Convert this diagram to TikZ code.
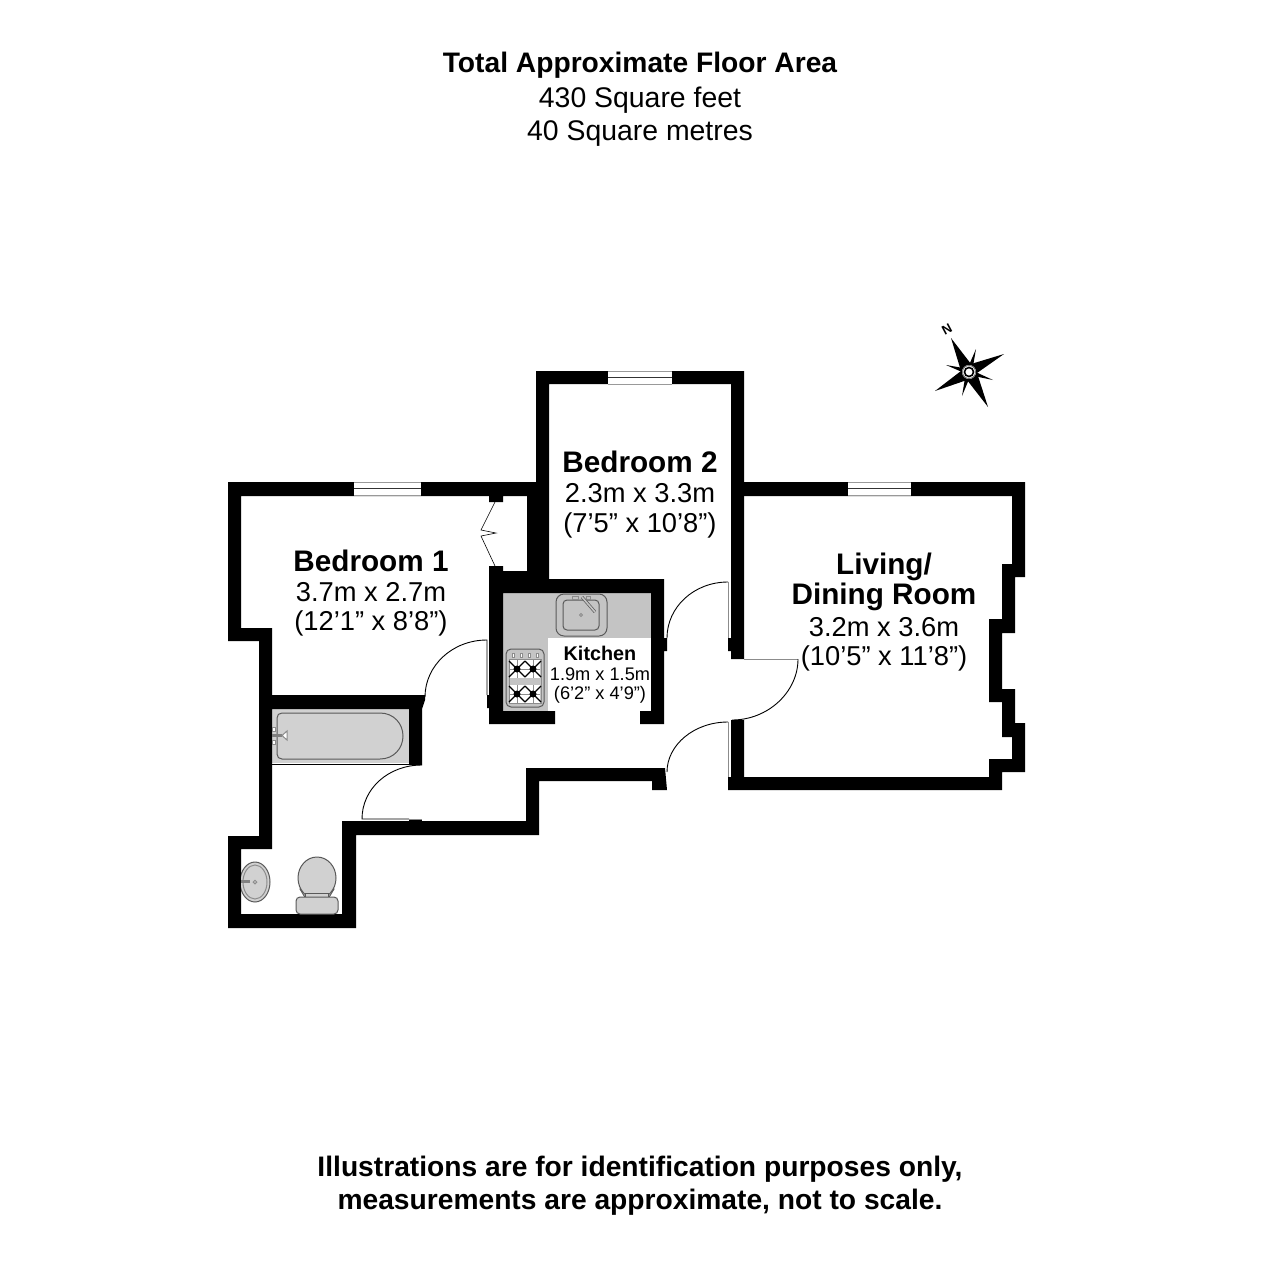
\documentclass[tikz,border=0pt]{standalone}
\usepackage{fontspec}
\setmainfont{Liberation Sans}
\usetikzlibrary{calc}

\tikzset{
	wall/.style = {fill = black},
	glazing/.style = {draw = black!40, line width = 0.5pt},
	leaf/.style = {draw = black, line width = 0.45pt},
	frame/.style = {draw = black!45, line width = 0.5pt},
	fitting/.style = {fill = black!18, draw = black!65, line width = 0.5pt},
	worktop/.style = {fill = black!23},
	roomname/.style = {font = \fontsize{14.85}{16}\selectfont\bfseries, inner sep = 0pt},
	roomsize/.style = {font = \fontsize{13.65}{15}\selectfont, inner sep = 0pt},
	kitname/.style = {font = \fontsize{9.9}{10}\selectfont\bfseries, inner sep = 0pt},
	kitsize/.style = {font = \fontsize{9.1}{9}\selectfont, inner sep = 0pt},
	notice/.style = {font = \fontsize{14.1}{16}\selectfont\bfseries, inner sep = 0pt},
	heading/.style = {font = \fontsize{14.2}{16}\selectfont, inner sep = 0pt}
}

\begin{document}
\begin{tikzpicture}[x = 0.5pt, y = -0.5pt]

\fill[white] (0,0) rectangle (1280,1280);

% worktops under the walls
\fill[worktop] (503,593) rectangle (651,638);
\fill[worktop] (503,638) rectangle (548,711);
\fill[fitting, draw = none] (272,709) rectangle (409,763);
\draw[line width = 0.5pt] (272,764)--(409,764);

% walls
\fill[wall] (228,482)--(536,482)--(536,371)--(744,371)--(744,659)--(731,659)--(731,651)--(728,651)--(728,638)--(731,638)--(731,384)--(549,384)--(549,579)--(664,579)--(664,638)--(667,638)--(667,651)--(664,651)--(664,724)--(640,724)--(640,711)--(651,711)--(651,593)--(503,593)--(503,711)--(555,711)--(555,724)--(489,724)--(489,708)--(487,708)--(487,695)--(489,695)--(489,566)--(503,566)--(503,571)--(527,571)--(527,496)--(503,496)--(503,502)--(489,502)--(489,496)--(241,496)--(241,628)--(272,628)--(272,695)--(425,695)--(425,700)--(422,709)--(422,765)--(409,765)--(409,709)--(272,709)--(272,849)--(241,849)--(241,914)--(342,914)--(342,821)--(526,821)--(526,768)--(665,768)--(667,790)--(652,790)--(652,781)--(539,781)--(539,835)--(356,835)--(356,928)--(228,928)--(228,836)--(259,836)--(259,641)--(228,641)--cycle;
\fill[wall] (731,720)--(744,720)--(744,777)--(989,777)--(989,759)--(1012,759)--(1012,737)--(1002,737)--(1002,702)--(989,702)--(989,619)--(1002,619)--(1002,564)--(1012,564)--(1012,496)--(744,496)--(744,482)--(1025,482)--(1025,577)--(1015,577)--(1015,633)--(1002,633)--(1002,689)--(1015,689)--(1015,723)--(1025,723)--(1025,772)--(1002,772)--(1002,790)--(728,790)--(728,777)--(731,777)--cycle;
\fill[wall] (409,819) rectangle (422,821);

% windows
\foreach \x/\y/\w in {354/482/67, 608/371/64, 848/482/63}{
	\fill[white] (\x,\y) rectangle (\x+\w,\y+14);
	\draw[glazing] (\x,\y+0.5)--(\x+\w,\y+0.5);
	\draw[glazing] (\x,\y+13.5)--(\x+\w,\y+13.5);
	\draw[glazing, black!80] (\x,\y+6.5)--(\x+\w,\y+6.5);
}

% doors
\draw[leaf] (487,695)--(487,640) .. controls (452,640) and (425,666) .. (425,697);
\draw[leaf] (422,765) .. controls (388,765) and (362,789) .. (362,819)--(409,819);
\draw[frame] (409,819)--(422,819);
\draw[leaf] (667,638) .. controls (667,607) and (694,582) .. (728,582);
\draw[frame] (728,582)--(728,638);
\draw[leaf] (667,772) .. controls (667,745) and (694,722) .. (728,722);
\draw[frame] (728,722)--(728,777);
\draw[frame] (744,659)--(798,659);
\draw[leaf] (798,659) .. controls (798,692) and (768,720) .. (732,720);
\draw[leaf, line width = 0.3pt] (495,502)--(481,530)--(496,533)--(481,536)--(495,566);

% bath
\draw[fitting] (282,713)--(380,713) .. controls (394,713) and (403,724) .. (403,736) .. controls (403,748) and (394,759) .. (380,759)--(282,759) .. controls (279,759) and (277,757) .. (277,754)--(277,718) .. controls (277,715) and (279,713) .. (282,713)--cycle;
\draw[frame, fill = white] (272,727) rectangle (275,731);
\draw[frame, fill = white] (272,740) rectangle (275,744);
\fill[black!50] (272,734) rectangle (282,737);
\draw[frame, fill = white] (282,735.5)--(287,731)--(287,740)--cycle;

% basin
\begin{scope}
	\clip (241,855) rectangle (275,910);
	\draw[fitting] (255,882) ellipse [x radius = 15, y radius = 20];
	\draw[frame] (255,882) ellipse [x radius = 12, y radius = 17];
\end{scope}
\fill[black!50] (241,880) rectangle (250,883);
\draw[frame] (255,882) circle (1.8);

% toilet
\draw[fitting] (300,889)--(334,889)--(328,899)--(306,899)--cycle;
\draw[fitting] (317,878) ellipse [x radius = 19, y radius = 21];
\draw[fitting] (305,893) rectangle (328,897);
\draw[fitting, rounded corners = 2pt] (296,897) rectangle (338,914);

% sink
\draw[fitting, fill = black!23, rounded corners = 4pt] (556,594) rectangle (607,636);
\draw[fitting, fill = black!23, rounded corners = 2pt] (563,600) rectangle (599,630);
\draw[frame] (572,596) rectangle (578,599);
\draw[frame] (586,596) rectangle (590,599);
\draw[line width = 1.5pt, black!65] (582,597)--(595,612);
\draw[line width = 0.8pt, black!23] (582,597)--(595,612);
\draw[frame] (581,615) circle (1.5);

% hob
\draw[fitting, fill = black!23, rounded corners = 2.5pt] (506,649) rectangle (544,707);
\draw[frame] (509,659) rectangle (541,703);
\foreach \x in {513,521,529,537}
	\draw[frame, fill = white] (\x-1,653) rectangle (\x+1,657);
\foreach \y in {669,694}{
	\fill[white] (510,\y-9) rectangle (540,\y+9);
	\draw[frame] (510,\y)--(540,\y);
	\foreach \x in {517,533}{
		\draw[frame] (\x,\y-9)--(\x,\y+9);
		\draw[line width = 0.55pt] (\x-8,\y-8)--(\x+8,\y+8);
		\draw[line width = 0.55pt] (\x-8,\y+8)--(\x+8,\y-8);
		\fill (\x,\y) circle (3.5);
	}
}

% compass
\fill (951,338)--(971,364)--(1004,354)--(977,373)--(988,407)--(967,380)--(935,391)--(961,371)--cycle;
\fill (976,349)--(972,372)--(966,372)--cycle;
\fill (993,380)--(969,375)--(969,369)--cycle;
\fill (962,396)--(966,372)--(972,372)--cycle;
\fill (946,365)--(969,369)--(969,375)--cycle;
\fill[white] (969,372) circle (7);
\draw[line width = 0.35pt, black!60] (969,372) circle (6.5);
\draw[line width = 0.8pt] (969,372) circle (4.5);
\node[font = \fontsize{6.5}{7}\selectfont\bfseries, rotate = 28, inner sep = 0pt] (north) at (947,329) {N};

% text
\node[notice] (areatitle) at (640,65) {Total Approximate Floor Area};
\node[heading] (areafeet) at (640,100) {430 Square feet};
\node[heading] (areametres) at (640,134) {40 Square metres};
\node[notice] (noteone) at (640,1169) {Illustrations are for identification purposes only,};
\node[notice] (notetwo) at (640,1202) {measurements are approximate, not to scale.};

\node[roomname] (bedonename) at (371,561) {Bedroom 1};
\node[roomsize] (bedonem) at (371,592) {3.7m x 2.7m};
\node[roomsize] (bedoneft) at (371,623) {(12’1” x 8’8”)};
\node[roomname] (bedtwoname) at (640,462) {Bedroom 2};
\node[roomsize] (bedtwom) at (640,493) {2.3m x 3.3m};
\node[roomsize] (bedtwoft) at (640,525) {(7’5” x 10’8”)};
\node[roomname] (livingname) at (884,567) {Living/};
\node[roomname] (diningname) at (884,597) {Dining Room};
\node[roomsize] (livingm) at (884,627) {3.2m x 3.6m};
\node[roomsize] (livingft) at (884,658) {(10’5” x 11’8”)};
\node[kitname] (kitchenname) at (600,653) {Kitchen};
\node[kitsize] (kitchenm) at (600,674) {1.9m x 1.5m};
\node[kitsize] (kitchenft) at (600,695) {(6’2” x 4’9”)};

\end{tikzpicture}
\end{document}
